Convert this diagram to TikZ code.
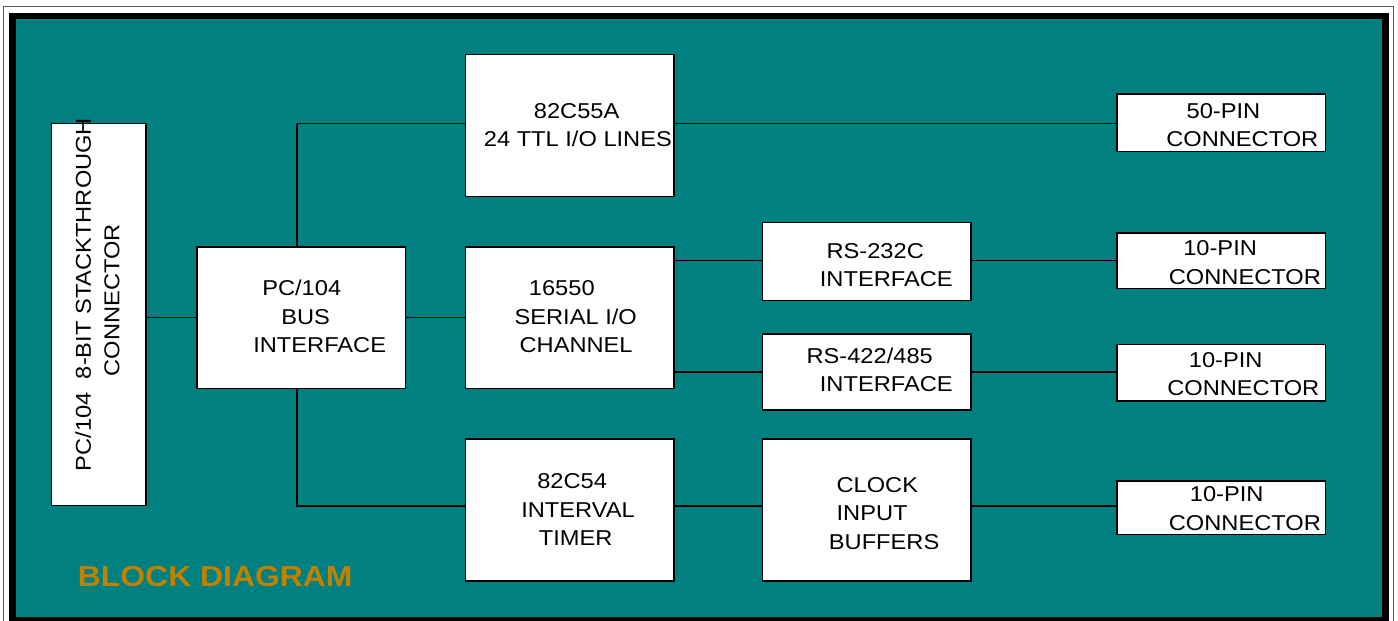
\documentclass[tikz,border=0pt]{standalone}
\usepackage{fontspec}
\setmainfont{Liberation Sans}[FakeStretch=1.1]
\definecolor{boardteal}{RGB}{0,128,128}
\definecolor{titleorange}{RGB}{192,128,0}

\begin{document}
\begin{tikzpicture}[x=0.5pt, y=-0.5pt, line width=0.6pt,
  blk/.style={draw=black, fill=white, inner sep=0pt, outer sep=0pt},
  lbl/.style={anchor=base west, align=left, inner sep=0pt,
    font=\fontsize{10.75pt}{14.25pt}\selectfont},
  wire/.style={draw=black, line width=0.6pt}]
  \useasboundingbox (0,0) rectangle (1398,621);
  \clip (0,0) rectangle (1398,621);
  \fill[white] (0,0) rectangle (1398,621);
  % frame
  \draw[gray!70!black, line width=0.5pt] (3.5,6.5) rectangle (1393.5,640);
  \fill[black] (9,12.5) rectangle (1388.5,640);
  \fill[boardteal] (16,19) rectangle (1382,617);

  % blocks
  \node[blk, minimum width=47.25pt, minimum height=191pt] (stk) at (98.75,314.5) {};
  \node[blk, minimum width=104.25pt, minimum height=70.75pt] (bus) at (301.25,317.75) {};
  \node[blk, minimum width=104.25pt, minimum height=71pt] (ppi) at (569.75,125.5) {};
  \node[blk, minimum width=104.25pt, minimum height=70.75pt] (uart) at (569.75,317.75) {};
  \node[blk, minimum width=104.25pt, minimum height=71pt] (pit) at (569.75,510) {};
  \node[blk, minimum width=104.25pt, minimum height=39pt] (rsa) at (866.75,261.5) {};
  \node[blk, minimum width=104.25pt, minimum height=38pt] (rsb) at (866.75,372) {};
  \node[blk, minimum width=104.25pt, minimum height=71pt] (clk) at (866.75,510) {};
  \node[blk, minimum width=104.25pt, minimum height=28.75pt] (pinA) at (1221.25,122.75) {};
  \node[blk, minimum width=104.25pt, minimum height=27.75pt] (pinB) at (1221.25,260.75) {};
  \node[blk, minimum width=104.25pt, minimum height=28.25pt] (pinC) at (1221.25,372.75) {};
  \node[blk, minimum width=104.25pt, minimum height=26.75pt] (pinD) at (1221.25,507.75) {};

  % bus rows
  \coordinate (tap) at (297,0);
  \coordinate (rowT) at (0,123.5);
  \coordinate (rowB) at (0,506);

  % wiring
  \draw[wire] (stk.east |- bus.west) -- (bus.west);
  \draw[wire] (bus.east) -- (uart.west);
  \draw[wire] (tap |- bus.north) |- (ppi.west |- rowT);
  \draw[wire] (ppi.east |- rowT) -- (pinA.west |- rowT);
  \draw[wire] (tap |- bus.south) |- (pit.west |- rowB);
  \draw[wire] (pit.east |- rowB) -- (clk.west |- rowB);
  \draw[wire] (clk.east |- rowB) -- (pinD.west |- rowB);
  \draw[wire] (uart.east |- pinB.west) -- (rsa.west |- pinB.west);
  \draw[wire] (rsa.east |- pinB.west) -- (pinB.west);
  \draw[wire] (uart.east |- rsb.west) -- (rsb.west);
  \draw[wire] (rsb.east) -- (rsb.east -| pinC.west);

  % labels (anchored at the baseline of the last line)
  \node[lbl, rotate=90] (stkT) at (119.3,471.7) {PC/104\ \ 8-BIT STACKTHROUGH\\\hspace*{47.5pt}CONNECTOR};
  \node[lbl] (busT) at (252.7,352.7) {\hspace*{4.5pt}PC/104\\\hspace*{14pt}BUS\\INTERFACE};
  \node[lbl] (ppiT) at (483.3,146.7) {\hspace*{25pt}82C55A\\24 TTL I/O LINES};
  \node[lbl] (uartT) at (514,352.7) {\hspace*{7.15pt}16550\\SERIAL I/O\\\hspace*{2.5pt}CHANNEL};
  \node[lbl] (pitT) at (520.7,545.7) {\hspace*{8pt}82C54\\INTERVAL\\\hspace*{8.8pt}TIMER};
  \node[lbl] (rsaT) at (819.3,286.7) {\hspace*{3.35pt}RS-232C\\INTERFACE};
  \node[lbl] (rsbT) at (806,391.7) {RS-422/485\\\hspace*{6.65pt}INTERFACE};
  \node[lbl] (clkT) at (828.3,549.3) {\hspace*{3.85pt}CLOCK\\\hspace*{3.85pt}INPUT\\BUFFERS};
  \node[lbl] (pinAT) at (1165.7,146.7) {\hspace*{10.15pt}50-PIN\\CONNECTOR};
  \node[lbl] (pinBT) at (1168.3,284.3) {\hspace*{7.2pt}10-PIN\\CONNECTOR};
  \node[lbl] (pinCT) at (1166.7,395.7) {\hspace*{10.8pt}10-PIN\\CONNECTOR};
  \node[lbl] (pinDT) at (1168.3,530) {\hspace*{10.5pt}10-PIN\\CONNECTOR};
  \node[anchor=base west, inner sep=0pt, text=titleorange,
    font=\fontsize{14.5pt}{17pt}\selectfont\bfseries] (title) at (77.3,586.7) {BLOCK DIAGRAM};
\end{tikzpicture}
\end{document}
